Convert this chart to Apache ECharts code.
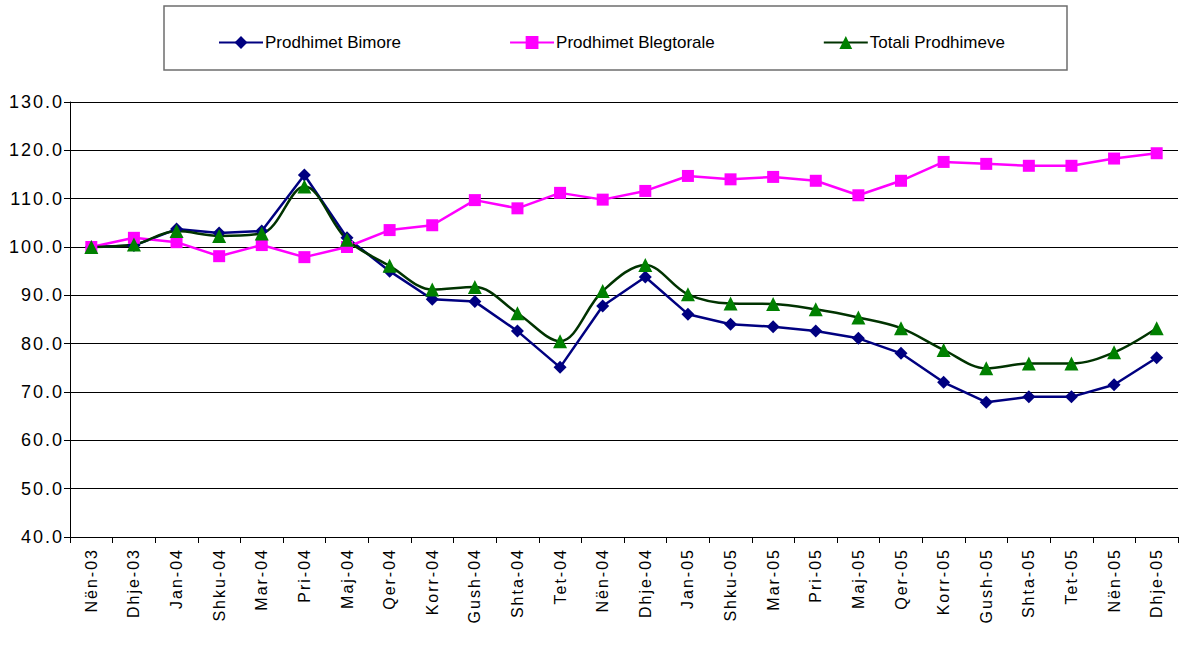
<!DOCTYPE html>
<html>
<head>
<meta charset="utf-8">
<script src="https://cdn.jsdelivr.net/npm/echarts@6/dist/echarts.min.js"></script>
<style>
  html, body { margin: 0; padding: 0; background: #fff; }
  #chart { width: 1179px; height: 645px; }
  /* etiketat e boshteve jane me hapesire mes shkronjave si ne Excel */
  #chart text[style*="16px"], #chart text[style*="18px"] { letter-spacing: 2px; }
</style>
</head>
<body>
<div id="chart"></div>
<script>
// muajt (kategorite)
const months = ['Nën-03', 'Dhje-03', 'Jan-04', 'Shku-04', 'Mar-04', 'Pri-04', 'Maj-04', 'Qer-04', 'Korr-04', 'Gush-04',
  'Shta-04', 'Tet-04', 'Nën-04', 'Dhje-04', 'Jan-05', 'Shku-05', 'Mar-05', 'Pri-05', 'Maj-05', 'Qer-05',
  'Korr-05', 'Gush-05', 'Shta-05', 'Tet-05', 'Nën-05', 'Dhje-05']

const bimore = [100.0, 100.3, 103.7, 102.9, 103.3, 114.9, 101.9, 95.0, 89.2, 88.7,
  82.6, 75.1, 87.8, 93.8, 86.1, 84.0, 83.5, 82.6, 81.1, 78.0,
  72.0, 67.9, 69.0, 69.0, 71.5, 77.1]

const blegtorale = [100.0, 101.9, 101.0, 98.1, 100.4, 97.9, 100.0, 103.5, 104.5, 109.7,
  108.0, 111.2, 109.8, 111.6, 114.7, 114.0, 114.5, 113.7, 110.7, 113.7,
  117.6, 117.2, 116.8, 116.8, 118.3, 119.4]

const totali = [100.0, 100.5, 103.3, 102.3, 102.8, 112.5, 101.5, 96.1, 91.2, 91.7,
  86.3, 80.5, 90.9, 96.3, 90.2, 88.3, 88.2, 87.1, 85.4, 83.2,
  78.7, 74.9, 75.9, 75.9, 78.2, 83.2]

const yMin = 40
const yMax = 130
const yStep = 10

const chart = echarts.init(document.getElementById('chart'), null, { renderer: 'svg' })
chart.setOption({
  animation: false,
  textStyle: { fontFamily: 'Arial, "Liberation Sans", sans-serif' },
  graphic: [
    {
      // kutia e legjendes
      type: 'rect',
      shape: { x: 164, y: 6, width: 903, height: 64 },
      style: { fill: '#fff', stroke: '#6e6e6e', lineWidth: 1.5 },
      z: 0
    }
  ],
  legend: {
    left: 213,
    top: 29,
    itemWidth: 44,
    itemHeight: 16,
    itemGap: 108,
    textStyle: { fontSize: 17, color: '#000', padding: [0, 0, 0, -3] },
    data: ['Prodhimet Bimore', 'Prodhimet Blegtorale', 'Totali Prodhimeve']
  },
  grid: {
    left: 70,
    right: 1,
    top: 102,
    bottom: 108,
    containLabel: false
  },
  xAxis: {
    type: 'category',
    data: months,
    boundaryGap: true,
    axisLine: { lineStyle: { color: '#000', width: 1 } },
    axisTick: { show: true, length: 6, inside: false, lineStyle: { color: '#000' } },
    axisLabel: {
      interval: 0,
      rotate: 90,
      margin: 11,
      fontSize: 16,
      color: '#000'
    }
  },
  yAxis: {
    type: 'value',
    min: yMin,
    max: yMax,
    interval: yStep,
    axisLine: { show: true, lineStyle: { color: '#000', width: 1 } },
    axisTick: { show: true, length: 6, lineStyle: { color: '#000' } },
    axisLabel: {
      fontSize: 18,
      color: '#000',
      margin: 6,
      formatter: function (v) { return v.toFixed(1) }
    },
    splitLine: { show: true, lineStyle: { color: '#000', width: 1 } }
  },
  series: [
    {
      name: 'Prodhimet Bimore',
      type: 'line',
      data: bimore,
      symbol: 'diamond',
      symbolSize: 13,
      lineStyle: { color: '#000080', width: 2.5 },
      itemStyle: { color: '#000080' }
    },
    {
      name: 'Prodhimet Blegtorale',
      type: 'line',
      data: blegtorale,
      symbol: 'rect',
      symbolSize: 12,
      lineStyle: { color: '#ff00ff', width: 2.5 },
      itemStyle: { color: '#ff00ff' }
    },
    {
      name: 'Totali Prodhimeve',
      type: 'line',
      data: totali,
      smooth: 0.35,
      symbol: 'triangle',
      symbolSize: 14,
      lineStyle: { color: '#003300', width: 2.5 },
      itemStyle: { color: '#008000' }
    }
  ]
})
</script>
</body>
</html>
